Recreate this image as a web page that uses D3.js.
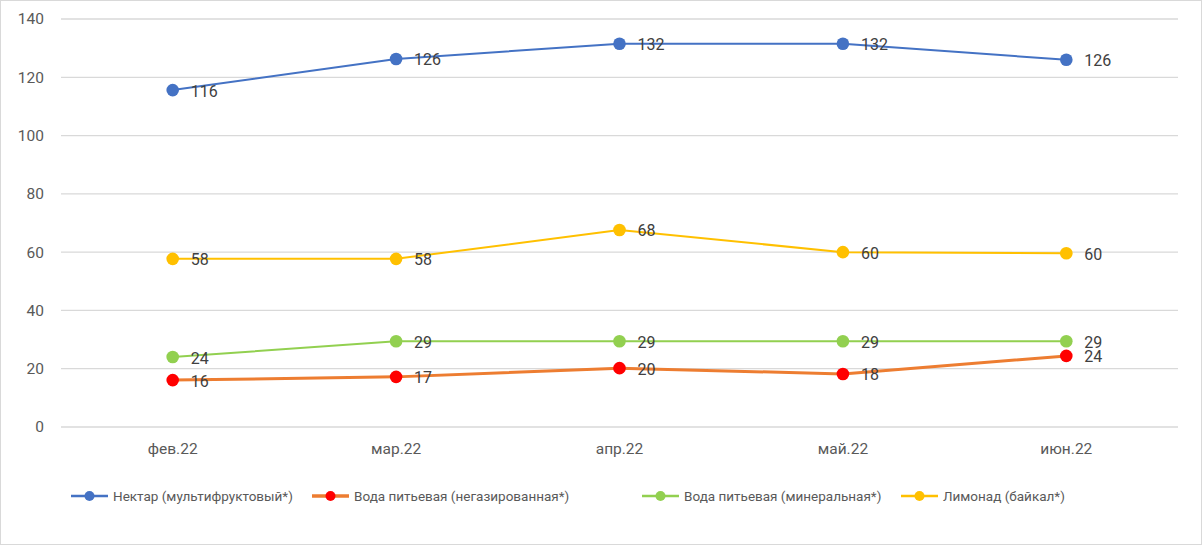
<!DOCTYPE html>
<html><head><meta charset="utf-8">
<script src="https://cdn.jsdelivr.net/npm/d3@7"></script>
<style>body{margin:0;background:#fff}svg{display:block}text{font-family:Roboto,"Open Sans",sans-serif}</style>
</head><body><svg id="c" width="1202" height="545"></svg>
<script>
const categories = ["фев.22","мар.22","апр.22","май.22","июн.22"];
const seriesNames = ["Нектар (мультифруктовый*)","Вода питьевая (негазированная*)","Вода питьевая (минеральная*)","Лимонад (байкал*)"];
const nectar = [115.6, 126.3, 131.5, 131.5, 126.0];
const stillWater = [16.1, 17.2, 20.2, 18.2, 24.4];
const mineralWater = [24.0, 29.4, 29.4, 29.4, 29.4];
const lemonade = [57.7, 57.7, 67.6, 60.0, 59.6];
const yTicks = [0,20,40,60,80,100,120,140];

const styles = [
  {line:"#4472c4", marker:"#4472c4", w:2},
  {line:"#ed7d31", marker:"#ff0000", w:3},
  {line:"#92d050", marker:"#92d050", w:2},
  {line:"#ffc000", marker:"#ffc000", w:2}
];
const series = [nectar, stillWater, mineralWater, lemonade].map((v,i)=>({name:seriesNames[i], values:v, style:styles[i]}));

const svg = d3.select("#c");
svg.append("rect").attr("x",0.5).attr("y",0.5).attr("width",1201).attr("height",544).attr("fill","#fff").attr("stroke","#d9d9d9");

const x = d3.scaleBand().domain(categories).range([61,1178]);
const y = d3.scaleLinear().domain([0,140]).range([427,19]);
const cx = c => x(c)+x.bandwidth()/2;

// grid
svg.append("g").selectAll("line").data(yTicks).join("line")
  .attr("x1",61).attr("x2",1178).attr("y1",d=>y(d)).attr("y2",d=>y(d))
  .attr("stroke","#d9d9d9").attr("stroke-width",1.3);

// y axis labels
const yAxis = svg.append("g").attr("transform","translate(44,0)")
  .call(d3.axisLeft(y).tickValues(yTicks).tickSize(0).tickPadding(0));
yAxis.select(".domain").remove();
yAxis.selectAll("text").attr("fill","#595959").style("font-size","15.5px").style("font-family","Roboto,sans-serif");

// x axis labels
const xAxis = svg.append("g").attr("transform","translate(0,443)")
  .call(d3.axisBottom(x).tickSize(0).tickPadding(0));
xAxis.select(".domain").remove();
xAxis.selectAll("text").attr("fill","#595959").style("font-size","15.5px").style("font-family","Roboto,sans-serif");

const line = d3.line().x((d,i)=>cx(categories[i])).y(d=>y(d));
series.forEach(s=>{
  const g = svg.append("g");
  g.append("path").datum(s.values).attr("d",line).attr("fill","none")
    .attr("stroke",s.style.line).attr("stroke-width",s.style.w).attr("stroke-linejoin","round");
  g.selectAll("circle").data(s.values).join("circle")
    .attr("cx",(d,i)=>cx(categories[i])).attr("cy",d=>y(d)).attr("r",6.3).attr("fill",s.style.marker);
});
series.forEach(s=>{
  svg.append("g").selectAll("text").data(s.values).join("text")
    .attr("x",(d,i)=>cx(categories[i])+18).attr("y",d=>y(d)+6.5)
    .attr("fill","#404040").style("font-size","16px")
    .text(d=>Math.round(d));
});

// legend
const legX = [71,312,642,901];
const lg = svg.append("g");
series.forEach((s,i)=>{
  const g = lg.append("g").attr("transform",`translate(${legX[i]},496)`);
  g.append("line").attr("x1",0).attr("x2",37).attr("stroke",s.style.line).attr("stroke-width",s.style.w+0.5);
  g.append("circle").attr("cx",18.5).attr("r",5).attr("fill",s.style.marker);
  g.append("text").attr("x",42).attr("y",5).attr("fill","#595959").style("font-size","13.5px").text(s.name);
});
</script></body></html>
